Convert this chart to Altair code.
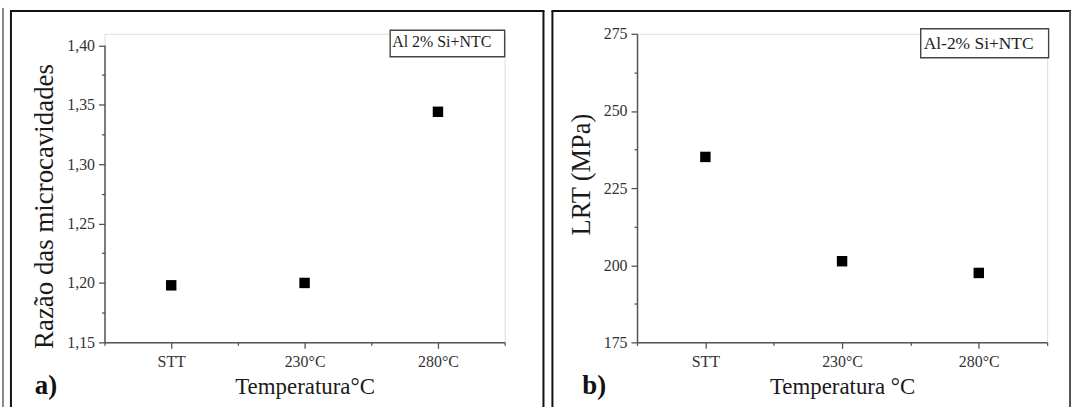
import json
import altair as alt
import pandas as pd

# ---- data -------------------------------------------------------------
temps = ["STT", "230°C", "280°C"]
razao = [1.198, 1.200, 1.344]        # (a) razão das microcavidades
lrt_mpa = [235.1, 201.3, 197.5]      # (b) limite de resistência à tração

x_ticks = [-0.5, 0, 0.5, 1, 1.5, 2, 2.5]
ya_ticks = [1.15, 1.175, 1.20, 1.225, 1.25, 1.275, 1.30, 1.325, 1.35, 1.375, 1.40]
ya_major = [1.15, 1.20, 1.25, 1.30, 1.35, 1.40]
yb_ticks = [175, 187.5, 200, 212.5, 225, 237.5, 250, 262.5, 275]
yb_major = [175, 200, 225, 250, 275]

# ---- style ------------------------------------------------------------
SERIF = "Liberation Serif"
AXIS_GREY = "#555555"
LABEL_GREY = "#333333"
TITLE_COL = "#1a1a1a"
FRAME_COL = "#111111"
H = 310
WA, WB = 402, 412

one_row = pd.DataFrame({"k": [0]})


def tick_len(test):
    return {"condition": {"test": test, "value": 6}, "value": 3}


def x_axis(title):
    names = json.dumps(temps, ensure_ascii=False)
    return alt.Axis(
        values=x_ticks,
        labelExpr=f"datum.value % 1 === 0 ? {names}[datum.value] : ''",
        tickSize=tick_len("datum.value % 1 === 0"),
        labelPadding=5,
        labelFont=SERIF, labelFontSize=16, labelColor=LABEL_GREY,
        labelOverlap=False, labelFlush=False,
        tickColor=AXIS_GREY, tickWidth=1.3,
        domainColor=AXIS_GREY, domainWidth=1.5,
        grid=False,
        title=title, titleFont=SERIF, titleFontSize=23, titleFontWeight="normal",
        titleColor=TITLE_COL, titleBaseline="alphabetic", titleY=51,
    )


def y_axis(values, major, fmt, title, title_size, title_x, title_y):
    maj = json.dumps(major)
    return alt.Axis(
        values=values,
        labelExpr=f"indexof({maj}, datum.value) >= 0 ? {fmt} : ''",
        tickSize=tick_len(f"indexof({maj}, datum.value) >= 0"),
        labelPadding=4,
        labelFont=SERIF, labelFontSize=16, labelColor=LABEL_GREY,
        labelOverlap=False, labelFlush=False,
        tickColor=AXIS_GREY, tickWidth=1.3,
        domainColor=AXIS_GREY, domainWidth=1.5,
        grid=False,
        title=title, titleFont=SERIF, titleFontSize=title_size, titleFontWeight="normal",
        titleColor=TITLE_COL, titleBaseline="alphabetic", titleAngle=270,
        titleX=title_x, titleY=title_y,
    )


def rule_v(x, y, y2, w=2, color=FRAME_COL):
    return alt.Chart(one_row).mark_rule(color=color, strokeWidth=w).encode(
        x=alt.value(x), y=alt.value(y), y2=alt.value(y2))


def rule_h(x, x2, y, w=2, color=FRAME_COL):
    return alt.Chart(one_row).mark_rule(color=color, strokeWidth=w).encode(
        x=alt.value(x), x2=alt.value(x2), y=alt.value(y))


def note_box(x, x2, y, y2, text, size, tx, ty):
    box = alt.Chart(one_row).mark_rect(fill="white", stroke="#444444", strokeWidth=1.4).encode(
        x=alt.value(x), x2=alt.value(x2), y=alt.value(y), y2=alt.value(y2))
    label = alt.Chart(one_row).mark_text(
        text=text, font=SERIF, fontSize=size, color="#222222",
        align="left", baseline="alphabetic").encode(x=alt.value(tx), y=alt.value(ty))
    return box + label


def tag(text, x, y):
    return alt.Chart(one_row).mark_text(
        text=text, font=SERIF, fontSize=27, fontWeight="bold", color="#111111",
        align="left", baseline="alphabetic").encode(x=alt.value(x), y=alt.value(y))


# ---- panel a ------------------------------------------------------------
df_a = pd.DataFrame({"pos": list(range(len(temps))), "temp": temps, "val": razao})
pts_a = alt.Chart(df_a).mark_square(size=110, color="black", opacity=1).encode(
    x=alt.X("pos:Q", scale=alt.Scale(domain=[-0.5, 2.5], nice=False, zero=False),
            axis=x_axis("Temperatura°C")),
    y=alt.Y("val:Q", scale=alt.Scale(domain=[1.15, 1.40], range=[H, 11.5], nice=False, zero=False),
            axis=y_axis(ya_ticks, ya_major,
                        "replace(format(datum.value, '.2f'), '.', ',')",
                        "Razão das microcavidades", 27, -52, 173)),
)
panel_a = alt.layer(
    rule_v(-102, -26, 375, w=1),
    rule_v(-94, -23, 375),
    rule_h(-95, 442, -23),
    rule_v(441, -23, 375),
    note_box(287, 402, -3.5, 23, "Al 2% Si+NTC", 16, 289, 13.5),
    tag("a)", -70, 362),
    pts_a,
).properties(width=WA, height=H)

# ---- panel b ------------------------------------------------------------
df_b = pd.DataFrame({"pos": list(range(len(temps))), "temp": temps, "val": lrt_mpa})
pts_b = alt.Chart(df_b).mark_square(size=110, color="black", opacity=1).encode(
    x=alt.X("pos:Q", scale=alt.Scale(domain=[-0.5, 2.5], nice=False, zero=False),
            axis=x_axis("Temperatura °C")),
    y=alt.Y("val:Q", scale=alt.Scale(domain=[175, 275], nice=False, zero=False),
            axis=y_axis(yb_ticks, yb_major, "format(datum.value, 'd')",
                        "LRT (MPa)", 26.5, -48, 141)),
)
panel_b = alt.layer(
    rule_v(-85, -23, 375),
    rule_h(-86, 436, -23),
    rule_v(435, -23, 375, color="#555555"),
    note_box(285, 413.5, -5, 24, "Al-2% Si+NTC", 17.5, 288, 15),
    tag("b)", -55, 362),
    pts_b,
).properties(width=WB, height=H)

chart = alt.hconcat(panel_a, panel_b, spacing=3).properties(
    padding={"left": 2, "top": 6, "right": 0, "bottom": 0}
).configure_view(stroke=None).configure(background="white")

chart.save("out.html", embed_options={"renderer": "svg", "actions": False})
